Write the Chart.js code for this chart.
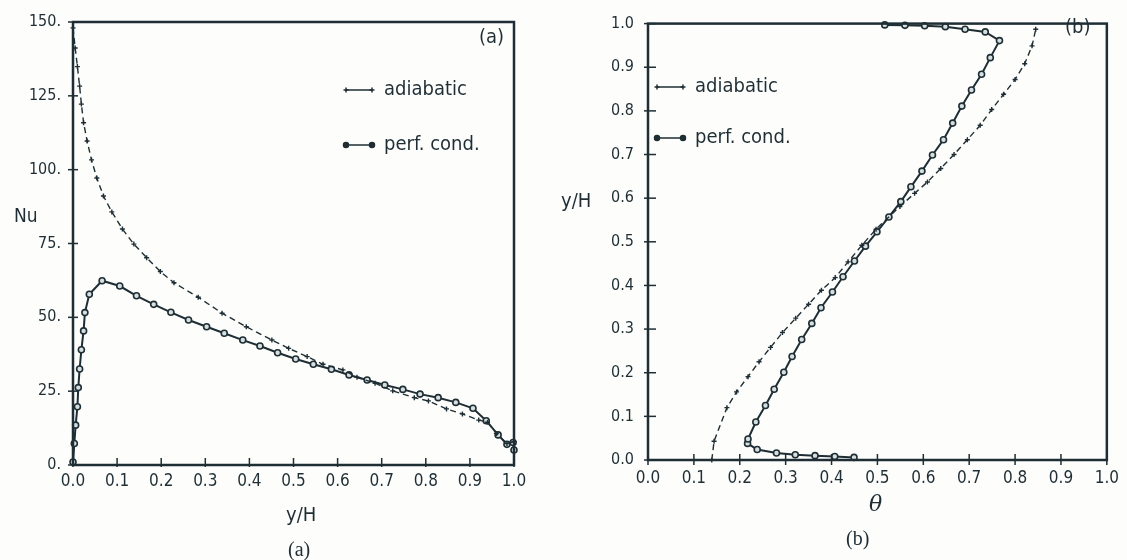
<!DOCTYPE html>
<html>
<head>
<meta charset="utf-8">
<script src="https://cdn.jsdelivr.net/npm/chart.js@4.4.0/dist/chart.umd.min.js"></script>
<style>
  body { margin: 0; background: #fdfdfc; }
  #wrap { position: relative; width: 1127px; height: 560px; overflow: hidden; font-family: "DejaVu Sans Condensed", "Liberation Sans Narrow", sans-serif; color: #1e2e34; }
  canvas { position: absolute; top: 0; }
  .lbl { position: absolute; white-space: nowrap; line-height: 1; }
  .cap { font-family: "Liberation Serif", serif; font-size: 20px; }
</style>
</head>
<body>
<div id="wrap">
  <canvas id="chartA" width="560" height="560" style="left:0"></canvas>
  <canvas id="chartB" width="567" height="560" style="left:560px"></canvas>
  <div class="lbl" style="left:14px; top:206px; font-size:19px;">Nu</div>
  <div class="lbl" style="left:286px; top:504px; font-size:20px;">y/H</div>
  <div class="lbl cap" style="left:288px; top:539px;">(a)</div>
  <div class="lbl" style="left:561px; top:190px; font-size:20px;">y/H</div>
  <div class="lbl" style="left:869px; top:493px; font-size:22px; font-style:italic; font-family:'DejaVu Serif', serif;">θ</div>
  <div class="lbl cap" style="left:846px; top:528px;">(b)</div>
</div>
<script>
// panel (a): Nu along the wall
var adiaYH = [0.0, 0.005, 0.010, 0.015, 0.019, 0.024, 0.032, 0.042, 0.054, 0.069, 0.088, 0.112, 0.138, 0.167, 0.198,
  0.229, 0.284, 0.338, 0.393, 0.451, 0.489, 0.531, 0.567, 0.612, 0.644, 0.685, 0.725, 0.774, 0.806, 0.847, 0.883,
  0.920, 0.940, 0.960, 0.984, 1.0];
var adiaNu = [148, 141.2, 134.9, 128.3, 122.2, 115.9, 109.7, 103.3, 97.2, 91.1, 85.7, 79.9, 74.8, 70.2, 65.5,
  61.7, 56.8, 51.4, 46.8, 42.3, 39.5, 36.7, 34.1, 32.2, 29.7, 27.7, 25.1, 22.8, 21.7, 19.0, 17.3,
  15.2, 14.5, 10.7, 7.3, 7.9];
var condYH = [0.0, 0.003, 0.006, 0.010, 0.012, 0.015, 0.019, 0.024, 0.027, 0.037, 0.066, 0.106, 0.144, 0.183, 0.222,
  0.262, 0.303, 0.343, 0.385, 0.424, 0.464, 0.505, 0.545, 0.586, 0.626, 0.667, 0.707, 0.748, 0.787, 0.828,
  0.868, 0.907, 0.937, 0.964, 0.984, 0.998, 1.0];
var condNu = [1, 7.3, 13.5, 19.7, 26.2, 32.5, 39.0, 45.4, 51.6, 57.8, 62.4, 60.6, 57.3, 54.4, 51.7,
  49.1, 46.8, 44.6, 42.3, 40.3, 38.0, 35.9, 34.1, 32.4, 30.5, 28.8, 27.1, 25.6, 24.0, 22.8,
  21.2, 19.2, 15.0, 10.2, 7.0, 7.6, 5.1];

// panel (b): temperature profile
var adiaTheta = [0.139, 0.144, 0.172, 0.193, 0.218, 0.242, 0.267, 0.293, 0.322, 0.350, 0.378, 0.408, 0.436, 0.466,
  0.497, 0.549, 0.581, 0.609, 0.638, 0.667, 0.696, 0.724, 0.749, 0.775, 0.800, 0.821, 0.837, 0.845];
var adiaY = [0.0, 0.043, 0.120, 0.156, 0.191, 0.225, 0.258, 0.292, 0.325, 0.357, 0.389, 0.418, 0.454, 0.492,
  0.529, 0.581, 0.611, 0.637, 0.668, 0.700, 0.734, 0.767, 0.803, 0.838, 0.872, 0.908, 0.949, 0.987];
var condTheta = [0.449, 0.407, 0.364, 0.321, 0.280, 0.238, 0.217, 0.218, 0.235, 0.256, 0.275, 0.296, 0.314, 0.335,
  0.357, 0.377, 0.402, 0.425, 0.450, 0.474, 0.499, 0.525, 0.551, 0.573, 0.597, 0.620, 0.644, 0.664, 0.684,
  0.705, 0.727, 0.746, 0.766, 0.735, 0.691, 0.648, 0.603, 0.560, 0.516];
var condY = [0.006, 0.008, 0.010, 0.012, 0.016, 0.024, 0.038, 0.048, 0.087, 0.125, 0.162, 0.201, 0.237, 0.276,
  0.313, 0.349, 0.385, 0.420, 0.456, 0.490, 0.523, 0.557, 0.592, 0.626, 0.662, 0.699, 0.734, 0.772, 0.811,
  0.848, 0.884, 0.922, 0.961, 0.981, 0.987, 0.993, 0.995, 0.996, 0.997];

var labelAdia = 'adiabatic';
var labelCond = 'perf. cond.';

var ink = '#1e2e34';
var fontFam = '"DejaVu Sans Condensed", "Liberation Sans Narrow", sans-serif';

function pairs(xs, ys) {
  return xs.map(function(x, i) { return { x: x, y: ys[i] }; });
}

function adiaSet(data) {
  return {
    label: labelAdia, data: data, showLine: true, borderColor: ink, borderWidth: 1.4,
    borderDash: [6, 4], pointStyle: 'cross', pointRadius: 2.5, pointBorderWidth: 1.4,
    pointBorderColor: ink, tension: 0, clip: 6
  };
}
function condSet(data) {
  return {
    label: labelCond, data: data, showLine: true, borderColor: ink, borderWidth: 2,
    pointStyle: 'circle', pointRadius: 3, pointBorderWidth: 1.6, pointBorderColor: ink,
    pointBackgroundColor: '#d6dfe0', tension: 0, clip: 6
  };
}

// box round the plot, ticks that cross the axes, legend and panel tag
var framePlugin = {
  id: 'frame',
  afterDraw: function(chart) {
    var o = chart.options.plugins.frame;
    var ctx = chart.ctx, a = chart.chartArea;
    ctx.save();
    ctx.strokeStyle = ink;
    ctx.lineWidth = 2.5;
    ctx.strokeRect(a.left, a.top, a.right - a.left, a.bottom - a.top);
    ctx.lineWidth = 1.5;
    chart.scales.x.ticks.forEach(function(t) {
      var px = chart.scales.x.getPixelForValue(t.value);
      ctx.beginPath(); ctx.moveTo(px, a.bottom - o.xIn); ctx.lineTo(px, a.bottom + o.xOut); ctx.stroke();
    });
    chart.scales.y.ticks.forEach(function(t) {
      var py = chart.scales.y.getPixelForValue(t.value);
      ctx.beginPath(); ctx.moveTo(a.left - o.yOut, py); ctx.lineTo(a.left + o.yIn, py); ctx.stroke();
    });

    ctx.fillStyle = ink;
    ctx.font = '20px ' + fontFam;
    ctx.textBaseline = 'middle';
    ctx.textAlign = 'left';
    ctx.fillText(o.tag, o.tagX, o.tagY);

    chart.data.datasets.forEach(function(ds, i) {
      var y = o.legY + i * o.legGap;
      ctx.save();
      ctx.lineWidth = 1.5;
      ctx.beginPath(); ctx.moveTo(o.legX, y); ctx.lineTo(o.legX + 26, y); ctx.stroke();
      [o.legX, o.legX + 26].forEach(function(px) {
        Chart.helpers.drawPoint(ctx, {
          pointStyle: ds.pointStyle, radius: 2.5, borderWidth: 1.5
        }, px, y);
        if (ds.pointStyle === 'circle') { ctx.fill(); }
      });
      ctx.restore();
      ctx.fillText(ds.label, o.legX + 38, y);
    });
    ctx.restore();
  }
};

function makeChart(id, sets, xOpt, yOpt, pad, yWidth, xHeight, frame) {
  return new Chart(document.getElementById(id).getContext('2d'), {
    type: 'scatter',
    data: { datasets: sets },
    options: {
      responsive: false,
      animation: false,
      layout: { padding: pad },
      plugins: { legend: { display: false }, tooltip: { enabled: false }, frame: frame },
      scales: {
        x: {
          type: 'linear', min: 0, max: 1,
          grid: { display: false, drawTicks: false }, border: { display: false },
          ticks: { stepSize: 0.1, color: ink, font: { family: fontFam, size: 17 }, padding: xOpt.padding,
            maxRotation: 0, autoSkip: false,
            callback: function(v) { return v.toFixed(1); } },
          afterFit: function(s) { s.height = xHeight; }
        },
        y: {
          type: 'linear', min: yOpt.min, max: yOpt.max,
          grid: { display: false, drawTicks: false }, border: { display: false },
          ticks: { stepSize: yOpt.step, color: ink, font: { family: fontFam, size: 16 }, padding: yOpt.padding,
            autoSkip: false, callback: yOpt.format },
          afterFit: function(s) { s.width = yWidth; }
        }
      }
    },
    plugins: [framePlugin]
  });
}

makeChart('chartA',
  [adiaSet(pairs(adiaYH, adiaNu)), condSet(pairs(condYH, condNu))],
  { padding: 6 },
  { min: 0, max: 150, step: 25, padding: 12, format: function(v) { return v + '.'; } },
  { top: 22, right: 46, left: 0, bottom: 0 }, 73, 95,
  { xIn: 7, xOut: 2, yIn: 5, yOut: 5, tag: '(a)', tagX: 479, tagY: 38,
    legX: 346, legY: 90, legGap: 55 });

makeChart('chartB',
  [adiaSet(pairs(adiaTheta, adiaY)), condSet(pairs(condTheta, condY))],
  { padding: 8 },
  { min: 0, max: 1, step: 0.1, padding: 14, format: function(v) { return v.toFixed(1); } },
  { top: 20, right: 19, left: 0, bottom: 0 }, 88, 100,
  { xIn: 6, xOut: 5, yIn: 8, yOut: 4, tag: '(b)', tagX: 505, tagY: 28,
    legX: 97, legY: 87, legGap: 51 });
</script>
</body>
</html>
